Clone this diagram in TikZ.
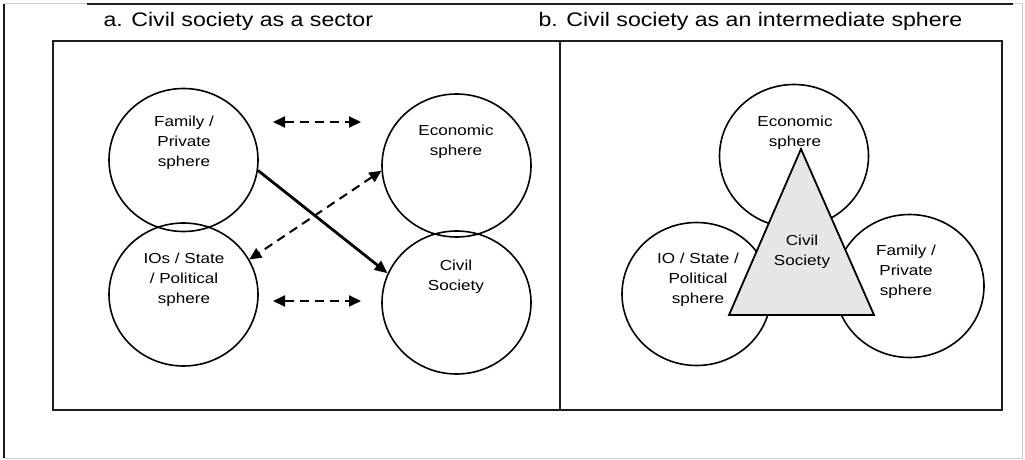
\documentclass[tikz,border=0pt]{standalone}
\usepackage{fontspec}
\setmainfont[FakeStretch=1.18]{Liberation Sans}
\usepackage{xcolor}
\definecolor{framegray}{RGB}{205,205,205}
\definecolor{linegray}{RGB}{30,30,30}
\definecolor{trianglegray}{RGB}{230,230,230}
\usetikzlibrary{shapes.geometric, arrows.meta}
\tikzstyle{sphere} = [
    draw,
    ellipse,
    line width=1.6pt,
    minimum width=149pt,
    minimum height=143pt,
    inner sep=0pt
]
\tikzstyle{spheretext} = [align=center, font=\fontsize{14.5}{20}\selectfont]
\tikzstyle{heading} = [anchor=base west, font=\fontsize{19.6}{23}\selectfont]
\tikzstyle{arrow} = [
    -{Triangle[length=13pt,width=11pt]},
    line width=2.8pt
]
\tikzstyle{dasharrow} = [
    {Triangle[length=12pt,width=11pt]}-{Triangle[length=12pt,width=11pt]},
    line width=2pt,
    dash pattern=on 9pt off 6pt
]

\begin{document}
\begin{tikzpicture}[x=1pt, y=-1pt]
    \useasboundingbox (0,0) rectangle (1025,460);

    % Outer frame
    \draw[framegray, line width=1pt] (4,4) rectangle (1022,458);
    \draw[linegray, line width=1.4pt] (4,458) -- (4,4);
    \draw[linegray, line width=1.4pt] (87,4) -- (1013,4);

    % Panels
    \draw[linegray, line width=1.8pt] (53,41) rectangle (1002,410);
    \draw[linegray, line width=1.8pt] (560,41) -- (560,410);

    % Titles
    \node[heading] (titlea) at (100,27) {a. Civil society as a sector};
    \node[heading] (titleb) at (535,27) {b. Civil society as an intermediate sphere};

    % Panel a: spheres
    \node[sphere] (fam) at (183.5,160) {};
    \node[sphere] (ios) at (183.5,294.5) {};
    \node[sphere] (eco) at (456.5,165.5) {};
    \node[sphere] (civ) at (456.5,302.5) {};

    \node[spheretext] (famtext) at (184,143) {Family /\\Private\\sphere};
    \node[spheretext] (iostext) at (184,280) {IOs / State\\/ Political\\sphere};
    \node[spheretext] (ecotext) at (456,142) {Economic\\sphere};
    \node[spheretext] (civtext) at (456,277) {Civil\\Society};

    % Panel a: relations
    \coordinate (famtip) at (273,122);
    \coordinate (ecotip) at (361,122);
    \coordinate (iostip) at (273,301);
    \coordinate (civtip) at (361,301);
    \draw[dasharrow] (famtip) -- (ecotip);
    \draw[dasharrow] (iostip) -- (civtip);
    \draw[dasharrow] (eco.184) -- (ios.28);
    \draw[arrow] (fam.-8) -- (civ.157);

    % Panel b: spheres
    \node[sphere] (reco) at (794,156) {};
    \node[sphere] (rio) at (696.5,294) {};
    \node[sphere] (rfam) at (909.5,286) {};

    % Civil society triangle
    \coordinate (apex) at (801,149);
    \coordinate (baseleft) at (729,315);
    \coordinate (baseright) at (874,315);
    \draw[fill=trianglegray, line width=1.8pt] (apex) -- (baseleft) -- (baseright) -- cycle;

    \node[spheretext] (recotext) at (795,133) {Economic\\sphere};
    \node[spheretext] (riotext) at (698,280) {IO / State /\\Political\\sphere};
    \node[spheretext] (rfamtext) at (906,272) {Family /\\Private\\sphere};
    \node[spheretext] (rcivtext) at (802,252) {Civil\\Society};
\end{tikzpicture}
\end{document}
